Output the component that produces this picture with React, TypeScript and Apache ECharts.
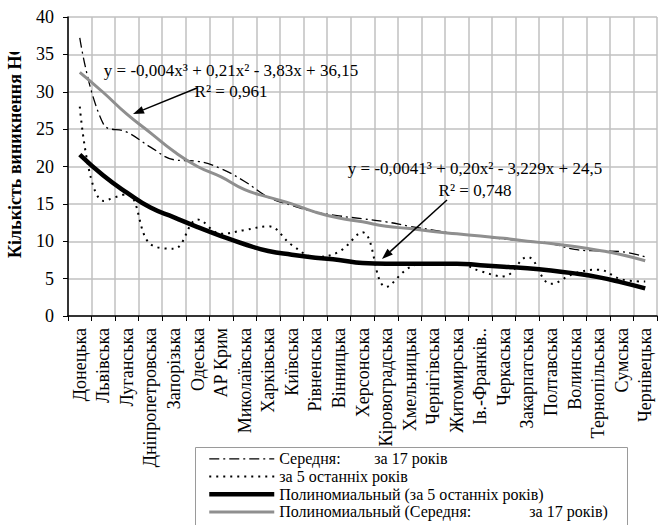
import React, { useEffect, useRef } from 'react';
import * as echarts from 'echarts';

const categories = [
  'Донецька', 'Львівська', 'Луганська', 'Дніпропетровська', 'Запорізька', 'Одеська',
  'АР Крим', 'Миколаївська', 'Харківська', 'Київська', 'Рівненська', 'Вінницька',
  'Херсонська', 'Кіровоградська', 'Хмельницька', 'Чернігівська', 'Житомирська',
  'Ів.-Франків..', 'Черкаська', 'Закарпатська', 'Полтавська', 'Волинська',
  'Тернопільська', 'Сумська', 'Чернівецька',
];

const avg17 = [37.2, 25.7, 24.6, 22.6, 20.9, 20.7, 19.7, 18.0, 15.9, 14.8, 13.9, 13.4, 13.0, 12.6, 12.0, 11.5, 11.0, 10.7, 10.3, 10.0, 9.7, 8.9, 8.7, 8.6, 7.9];
const last5 = [28.0, 15.4, 16.3, 9.6, 9.0, 12.9, 11.0, 11.5, 12.0, 9.5, 7.9, 8.6, 11.2, 3.9, 6.5, 7.1, 7.1, 6.0, 5.3, 7.9, 4.3, 5.7, 6.2, 4.9, 4.6];
const trendLast5 = [21.6, 18.8, 16.5, 14.5, 13.2, 11.9, 10.7, 9.6, 8.7, 8.2, 7.8, 7.5, 7.1, 7.0, 7.0, 7.0, 7.0, 6.8, 6.6, 6.4, 6.1, 5.7, 5.2, 4.5, 3.7];
const trendAvg17 = [32.6, 29.9, 27.0, 24.5, 22.0, 20.0, 18.6, 16.9, 15.9, 15.0, 13.9, 13.1, 12.6, 12.0, 11.7, 11.3, 11.0, 10.7, 10.4, 10.0, 9.7, 9.3, 8.8, 8.2, 7.4];

const yMin = 0;
const yMax = 40;
const yInterval = 5;

const seriesNames = [
  'Середня: за 17 років',
  'за 5 останніх років',
  'Полиномиальный (за 5 останніх років)',
  'Полиномиальный (Середня: за 17 років)',
];

const eq1 = ['y = -0,004x³ + 0,21x² - 3,83x + 36,15', 'R² = 0,961'];
const eq2 = ['y = -0,0041³ + 0,20x² - 3,229x + 24,5', 'R² = 0,748'];
const yTitle = 'Кількість виникнення НС';

const FONT = '"Liberation Serif", "Times New Roman", serif';

const styles = [
  { color: '#000', width: 1.3, type: [10, 4, 2, 4] as number[] | 'solid' },
  { color: '#000', width: 2, type: [2, 5] as number[] | 'solid' },
  { color: '#000', width: 4.5, type: 'solid' as number[] | 'solid' },
  { color: '#8f8f8f', width: 3, type: 'solid' as number[] | 'solid' },
];

function arrowGraphic(x1: number, y1: number, x2: number, y2: number) {
  const dx = x2 - x1;
  const dy = y2 - y1;
  const len = Math.hypot(dx, dy);
  const ux = dx / len;
  const uy = dy / len;
  const hl = 11;
  const hw = 4;
  const bx = x2 - ux * hl;
  const by = y2 - uy * hl;
  const px = -uy;
  const py = ux;
  return [
    { type: 'line', z: 10, shape: { x1, y1, x2: bx, y2: by }, style: { stroke: '#000', lineWidth: 1.5 } },
    {
      type: 'polygon', z: 10,
      shape: { points: [[x2, y2], [bx + px * hw, by + py * hw], [bx - px * hw, by - py * hw]] },
      style: { fill: '#000' },
    },
  ];
}

function eqText(x: number, y: number, text: string) {
  return {
    type: 'text', z: 10, x, y,
    style: { text, fill: '#000', font: `17px ${FONT}`, textAlign: 'center', textVerticalAlign: 'middle' },
  };
}

export default function App() {
  const ref = useRef<HTMLDivElement>(null);

  useEffect(() => {
    if (!ref.current) return;
    const chart = echarts.init(ref.current, undefined, { renderer: 'svg' });
    const richBase = { fontFamily: FONT, fontSize: 16, color: '#000', lineHeight: 17.7 };
    const dataSeries = [avg17, last5, trendLast5, trendAvg17];
    chart.setOption({
      animation: false,
      backgroundColor: '#fff',
      grid: { left: 68, right: 1, top: 17, bottom: 209, containLabel: false },
      xAxis: {
        type: 'category',
        data: categories,
        boundaryGap: true,
        axisLine: { lineStyle: { color: '#000', width: 1.5 } },
        axisTick: { show: true, length: 5, lineStyle: { color: '#000' } },
        axisLabel: { rotate: 90, interval: 0, margin: 12, color: '#000', fontFamily: FONT, fontSize: 18 },
        splitLine: { show: true, lineStyle: { color: '#c0c0c0', width: 1.5 } },
      },
      yAxis: {
        type: 'value',
        min: yMin,
        max: yMax,
        interval: yInterval,
        axisLine: { show: true, lineStyle: { color: '#000', width: 1.5 } },
        axisTick: { show: true, length: 5, lineStyle: { color: '#000' } },
        axisLabel: { margin: 14, color: '#000', fontFamily: FONT, fontSize: 18 },
        splitLine: { show: true, lineStyle: { color: '#c0c0c0', width: 1.5 } },
      },
      legend: {
        orient: 'vertical',
        left: 207,
        top: 450,
        height: 80,
        itemWidth: 65,
        itemHeight: 12,
        itemGap: 0,
        padding: 0,
        itemStyle: { opacity: 0 },
        data: seriesNames.map((name, i) => ({
          name,
          lineStyle: { color: styles[i].color, width: styles[i].width, type: styles[i].type },
        })),
        formatter: (name: string) => {
          if (name === seriesNames[0]) return '{a|Середня:}{t|за 17 років}';
          if (name === seriesNames[3]) return '{b|Полиномиальный (Середня:}{t|за 17 років)}';
          return '{t|' + name + '}';
        },
        textStyle: {
          ...richBase,
          rich: {
            a: { ...richBase, width: 95 },
            b: { ...richBase, width: 250 },
            t: { ...richBase },
          },
        },
      },
      series: seriesNames.map((name, i) => ({
        name,
        type: 'line',
        data: dataSeries[i],
        smooth: i < 2 ? 0.4 : true,
        symbol: 'none',
        z: i < 2 ? 2 : 3,
        itemStyle: { color: styles[i].color },
        lineStyle: { color: styles[i].color, width: styles[i].width, type: styles[i].type },
      })),
      graphic: [
        {
          type: 'text', z: 10, x: 15, y: 258, rotation: Math.PI / 2,
          style: { text: yTitle, fill: '#000', font: `bold 18px ${FONT}`, textAlign: 'left', textVerticalAlign: 'middle' },
        },
        { type: 'rect', z: 20, shape: { x: 0, y: 0, width: 32, height: 52 }, style: { fill: '#fff' } },
        {
          type: 'rect', z: 0, shape: { x: 195.5, y: 447.5, width: 432, height: 100 },
          style: { fill: 'none', stroke: '#9a9a9a', lineWidth: 1 },
        },
        eqText(231, 70, eq1[0]),
        eqText(231, 91, eq1[1]),
        eqText(475, 168, eq2[0]),
        eqText(475, 190, eq2[1]),
        ...arrowGraphic(197, 88, 133, 114),
        ...arrowGraphic(447, 200, 382, 259),
      ],
    });
    return () => chart.dispose();
  }, []);

  return (
    <div
      ref={ref}
      style={{ position: 'fixed', left: 0, top: 0, width: 658, height: 525, background: '#fff' }}
    />
  );
}
